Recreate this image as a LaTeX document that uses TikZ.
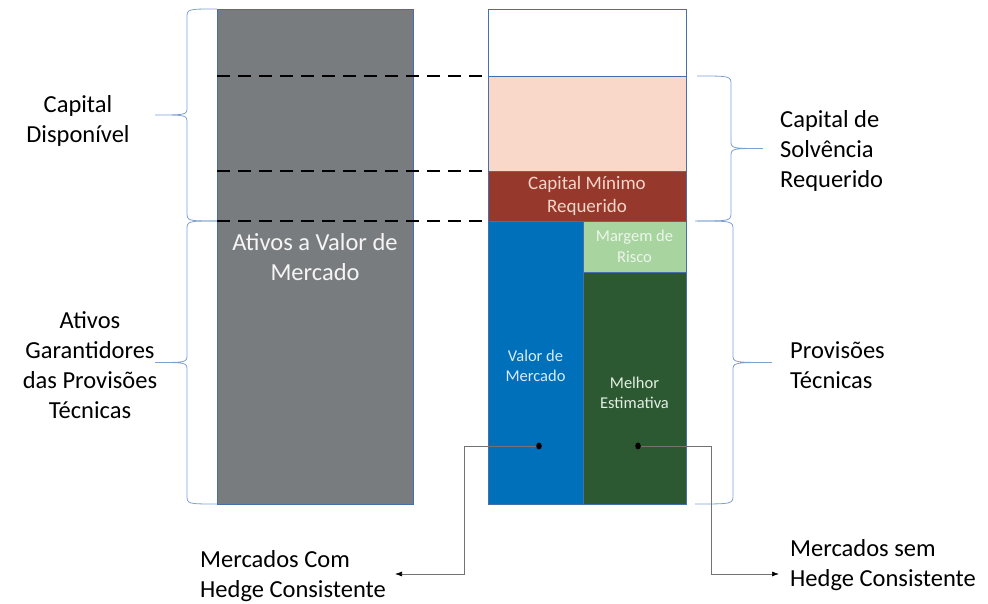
\documentclass[tikz,border=0pt]{standalone}
\usepackage{fontspec}
\setmainfont{Carlito}
\usepackage{xcolor}
\usetikzlibrary{shapes.geometric}
\usetikzlibrary{arrows.meta}

\definecolor{barGray}{RGB}{121,124,127}
\definecolor{boxLine}{RGB}{68,110,172}
\definecolor{braceBlue}{RGB}{125,160,212}
\definecolor{scrPeach}{RGB}{249,216,202}
\definecolor{mcrRed}{RGB}{150,56,44}
\definecolor{vmBlue}{RGB}{0,112,186}
\definecolor{mrGreen}{RGB}{168,212,160}
\definecolor{meGreen}{RGB}{44,88,50}
\definecolor{mcrText}{RGB}{244,214,200}
\definecolor{mrText}{RGB}{236,246,234}
\definecolor{vmText}{RGB}{214,236,250}
\definecolor{meText}{RGB}{226,240,226}

\begin{document}
\begin{tikzpicture}[x=1pt,y=1pt,
  box/.style={draw=boxLine, line width=0.7pt},
  cutline/.style={line width=2.4pt, dash pattern=on 13pt off 8pt},
  brc/.style={draw=braceBlue, line width=0.8pt},
  lbl/.style={font=\fontsize{24.5}{30}\selectfont, align=center, inner sep=0pt},
  inlbl/.style={font=\fontsize{16.5}{20.5}\selectfont, align=center, inner sep=0pt},
  dotmark/.style={ellipse, fill=black, inner sep=0pt, minimum width=5.5pt, minimum height=7pt},
  conn/.style={draw=black!55, line width=0.7pt, -{Latex[length=7pt,width=5pt,color=black]}}]
\useasboundingbox (0,0) rectangle (988,604);

% left column
\draw[box, fill=barGray] (217,100) rectangle (413,595);
\node[lbl, text=white!96!black] (ativosVM) at (315,347) {Ativos a Valor de\\Mercado};

% levels
\foreach \y in {528,433,383}
  \draw[cutline] (217,\y) -- (488,\y);

% right column
\draw[box, fill=white] (488,528) rectangle (686,595);
\draw[box, fill=scrPeach] (488,433) rectangle (686,528);
\draw[box, fill=mcrRed] (488,383) rectangle (686,433);
\draw[box, fill=vmBlue] (488,100) rectangle (583,383);
\draw[box, fill=mrGreen] (583,332) rectangle (686,383);
\draw[box, fill=meGreen] (583,100) rectangle (686,332);

\node[inlbl, text=mcrText, font=\fontsize{19}{23}\selectfont] (mcr) at (587,408) {Capital Mínimo\\Requerido};
\node[inlbl, text=mrText] (mr) at (634.5,357.5) {Margem de\\Risco};
\node[inlbl, text=vmText] (vm) at (535.5,238) {Valor de\\Mercado};
\node[inlbl, text=meText] (me) at (634.5,211) {Melhor\\Estimativa};

% braces: end x / body x / tip x / top y / bottom y
\foreach \xe/\xb/\xt/\yt/\yb in {217/187/155/595/383, 217/187/155/383/100, 697/731/763/528/383, 695/733/772/383/100}
  \draw[brc] (\xe,\yt) .. controls (\xb,\yt) .. (\xb,\yt-9)
    -- (\xb,{(\yt+\yb)/2+8}) .. controls (\xb,{(\yt+\yb)/2}) .. (\xt,{(\yt+\yb)/2})
    .. controls (\xb,{(\yt+\yb)/2}) .. (\xb,{(\yt+\yb)/2-8})
    -- (\xb,\yb+9) .. controls (\xb,\yb) .. (\xe,\yb);

\node[lbl] (capDisp) at (78,483) {Capital\\Disponível};
\node[lbl] (agpt) at (90,239) {Ativos\\Garantidores\\das Provisões\\Técnicas};
\node[lbl, anchor=west, align=left] (csr) at (780,453) {Capital de\\Solvência\\Requerido};
\node[lbl, anchor=west, align=left] (pt) at (790,239) {Provisões\\Técnicas};

% hedge
\node[dotmark] (dotVM) at (539,158) {};
\node[dotmark] (dotME) at (638,158) {};
\coordinate (kneeL) at (464,30);
\coordinate (endL) at (395,30);
\coordinate (kneeR) at (711,30);
\coordinate (endR) at (779,30);
\draw[conn] (dotVM) -| (kneeL) -- (endL);
\draw[conn] (dotME) -| (kneeR) -- (endR);

\node[lbl, anchor=west, align=left] (mcom) at (200,28) {Mercados Com\\Hedge Consistente};
\node[lbl, anchor=west, align=left] (msem) at (790,39) {Mercados sem\\Hedge Consistente};
\end{tikzpicture}
\end{document}
